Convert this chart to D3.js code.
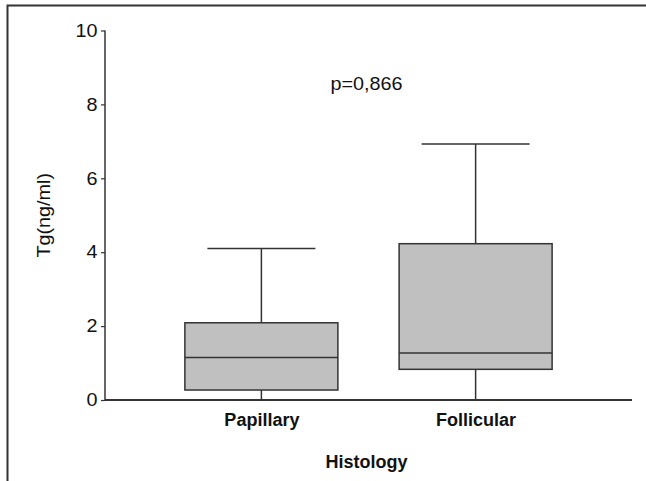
<!DOCTYPE html>
<html>
<head>
<meta charset="utf-8">
<script src="https://cdn.jsdelivr.net/npm/d3@7"></script>
<style>
	html, body { margin: 0; padding: 0; background: #fff; }
	svg { display: block; font-family: Arial, "Liberation Sans", sans-serif; }
</style>
</head>
<body>
<svg id="chart" width="646" height="481"></svg>
<script>
	// box summaries
	const categories = ["Papillary", "Follicular"];
	const whiskerLow = [0.0, 0.0];
	const q1 = [0.27, 0.83];
	const medians = [1.15, 1.27];
	const q3 = [2.09, 4.23];
	const whiskerHigh = [4.1, 6.93];
	const yTicks = [0, 2, 4, 6, 8, 10];
	const pLabel = "p=0,866";

	const svg = d3.select("#chart");
	const ink = "#333";
	const stretch = "scale(1.1,1)";

	const x = d3.scalePoint().domain(categories).range([105, 632]).padding(0.73);
	const y = d3.scaleLinear().domain([0, 10]).range([400, 30.5]);
	const boxW = 153;
	const capW = 108;

	// outer frame (cut off on right and bottom)
	svg.append("path")
		.attr("d", "M7.5,481 V5.5 H646")
		.attr("fill", "none")
		.attr("stroke", ink)
		.attr("stroke-width", 2);

	const boxes = categories.map((c, i) => ({
		c, lo: whiskerLow[i], q1: q1[i], med: medians[i], q3: q3[i], hi: whiskerHigh[i]
	}));

	const g = svg.append("g").attr("stroke", ink).attr("stroke-width", 1.5);

	const box = g.selectAll("g.box").data(boxes).join("g").attr("class", "box");

	box.append("line")
		.attr("x1", (d) => x(d.c)).attr("x2", (d) => x(d.c))
		.attr("y1", (d) => y(d.q3)).attr("y2", (d) => y(d.hi));
	box.append("line")
		.attr("x1", (d) => x(d.c)).attr("x2", (d) => x(d.c))
		.attr("y1", (d) => y(d.q1)).attr("y2", (d) => y(d.lo));
	box.append("line")
		.attr("x1", (d) => x(d.c) - capW / 2).attr("x2", (d) => x(d.c) + capW / 2)
		.attr("y1", (d) => y(d.hi)).attr("y2", (d) => y(d.hi));
	box.append("rect")
		.attr("x", (d) => x(d.c) - boxW / 2)
		.attr("width", boxW)
		.attr("y", (d) => y(d.q3))
		.attr("height", (d) => y(d.q1) - y(d.q3))
		.attr("fill", "#c0c0c0");
	box.append("line")
		.attr("x1", (d) => x(d.c) - boxW / 2).attr("x2", (d) => x(d.c) + boxW / 2)
		.attr("y1", (d) => y(d.med)).attr("y2", (d) => y(d.med));

	// y axis
	const yAxis = svg.append("g")
		.attr("transform", "translate(105,0)")
		.call(d3.axisLeft(y).tickValues(yTicks).tickSize(4).tickPadding(3).tickFormat(d3.format("d")));
	yAxis.select(".domain").attr("d", `M0,${y(10)}V${y(0)}`).attr("stroke", ink).attr("stroke-width", 1.5);
	yAxis.selectAll(".tick line").attr("stroke", ink).attr("stroke-width", 1.2);
	yAxis.selectAll(".tick text")
		.attr("x", -7.5 / 1.1)
		.attr("transform", stretch)
		.attr("font-size", 18)
		.attr("font-family", "Arial, 'Liberation Sans', sans-serif")
		.attr("fill", "#111");

	// x axis
	const xAxis = svg.append("g")
		.attr("transform", `translate(0,${y(0)})`)
		.call(d3.axisBottom(x).tickSize(0).tickPadding(13));
	xAxis.select(".domain").attr("d", `M105,0H632`).attr("stroke", ink).attr("stroke-width", 2);
	xAxis.selectAll(".tick text")
		.attr("font-size", 18)
		.attr("font-weight", "bold")
		.attr("font-family", "Arial, 'Liberation Sans', sans-serif")
		.attr("fill", "#111");

	svg.append("text")
		.attr("x", 366.5).attr("y", 468)
		.attr("text-anchor", "middle")
		.attr("font-size", 18).attr("font-weight", "bold").attr("fill", "#111")
		.text("Histology");

	svg.append("text")
		.attr("transform", `translate(50,${(y(0) + y(10)) / 2}) rotate(-90) ${stretch}`)
		.attr("text-anchor", "middle")
		.attr("font-size", 18).attr("fill", "#111")
		.text("Tg(ng/ml)");

	svg.append("text")
		.attr("transform", `translate(366.5,90) ${stretch}`)
		.attr("text-anchor", "middle")
		.attr("font-size", 18).attr("fill", "#111")
		.text(pLabel);
</script>
</body>
</html>
